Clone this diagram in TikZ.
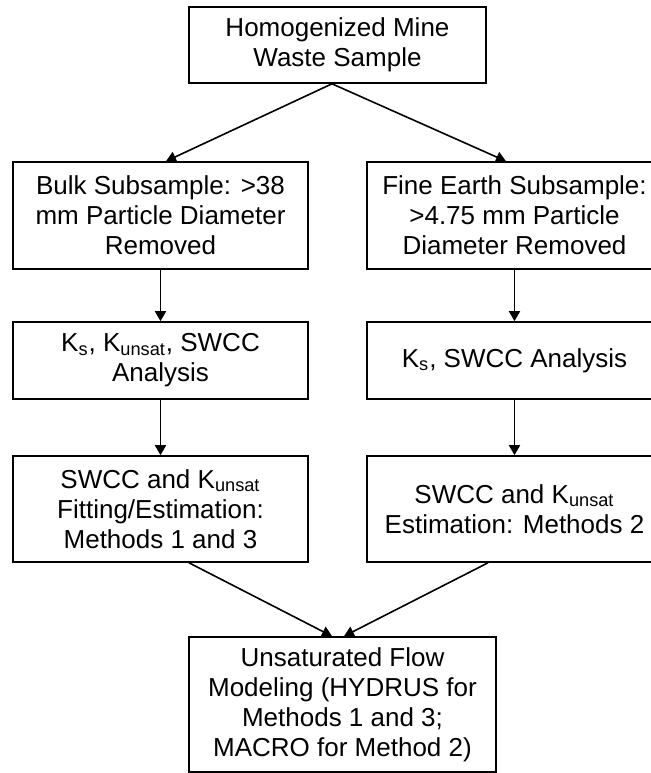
\documentclass[tikz,border=0pt]{standalone}
\usepackage{fontspec}
\setmainfont{Liberation Sans}
\usetikzlibrary{arrows.meta}
\begin{document}
\begin{tikzpicture}[x=0.5pt,y=-0.5pt,
    box/.style={draw,line width=0.8pt,align=center,inner sep=0pt,
      minimum width=147.5pt,font=\fontsize{13}{15}\selectfont},
    arr/.style={-{Triangle[length=5pt,width=5.5pt]},line width=0.8pt}]
  \useasboundingbox (0,0) rectangle (651,773);
  \node[box,minimum width=148.5pt,minimum height=38pt] (sample) at (337.5,45)
    {Homogenized Mine\\Waste Sample};
  \node[box,minimum height=53.5pt] (bulk) at (160.5,215.5)
    {Bulk Subsample: >38\\mm Particle Diameter\\Removed};
  \node[box,minimum height=53.5pt] (fine) at (514.5,215.5)
    {Fine Earth Subsample:\\>4.75 mm Particle\\Diameter Removed};
  \node[box,minimum height=38.5pt] (bulkan) at (160.5,360.5)
    {K\textsubscript{s}, K\textsubscript{unsat}, SWCC\\Analysis};
  \node[box,minimum height=38.5pt] (finean) at (514.5,360.5)
    {K\textsubscript{s}, SWCC Analysis};
  \node[box,minimum height=53pt] (bulkfit) at (160.5,509)
    {SWCC and K\textsubscript{unsat}\\Fitting/Estimation:\\Methods 1 and 3};
  \node[box,minimum height=53pt] (finefit) at (514.5,509)
    {SWCC and K\textsubscript{unsat}\\Estimation: Methods 2};
  \node[box,minimum width=153.5pt,minimum height=67.5pt] (model) at (342.5,704.5)
    {Unsaturated Flow\\Modeling (HYDRUS for\\Methods 1 and 3;\\MACRO for Method 2)};
  \draw[arr] ([xshift=-2.75pt]sample.south) -- ([xshift=2.75pt]bulk.north);
  \draw[arr] ([xshift=-2.75pt]sample.south) -- ([xshift=-4.25pt]fine.north);
  \draw[arr] (bulk) -- (bulkan);
  \draw[arr] (fine) -- (finean);
  \draw[arr] (bulkan) -- (bulkfit);
  \draw[arr] (finean) -- (finefit);
  \draw[arr] ([xshift=14.25pt]bulkfit.south) -- ([xshift=-5.25pt]model.north);
  \draw[arr] ([xshift=-13.25pt]finefit.south) -- ([xshift=0.75pt]model.north);
\end{tikzpicture}
\end{document}
